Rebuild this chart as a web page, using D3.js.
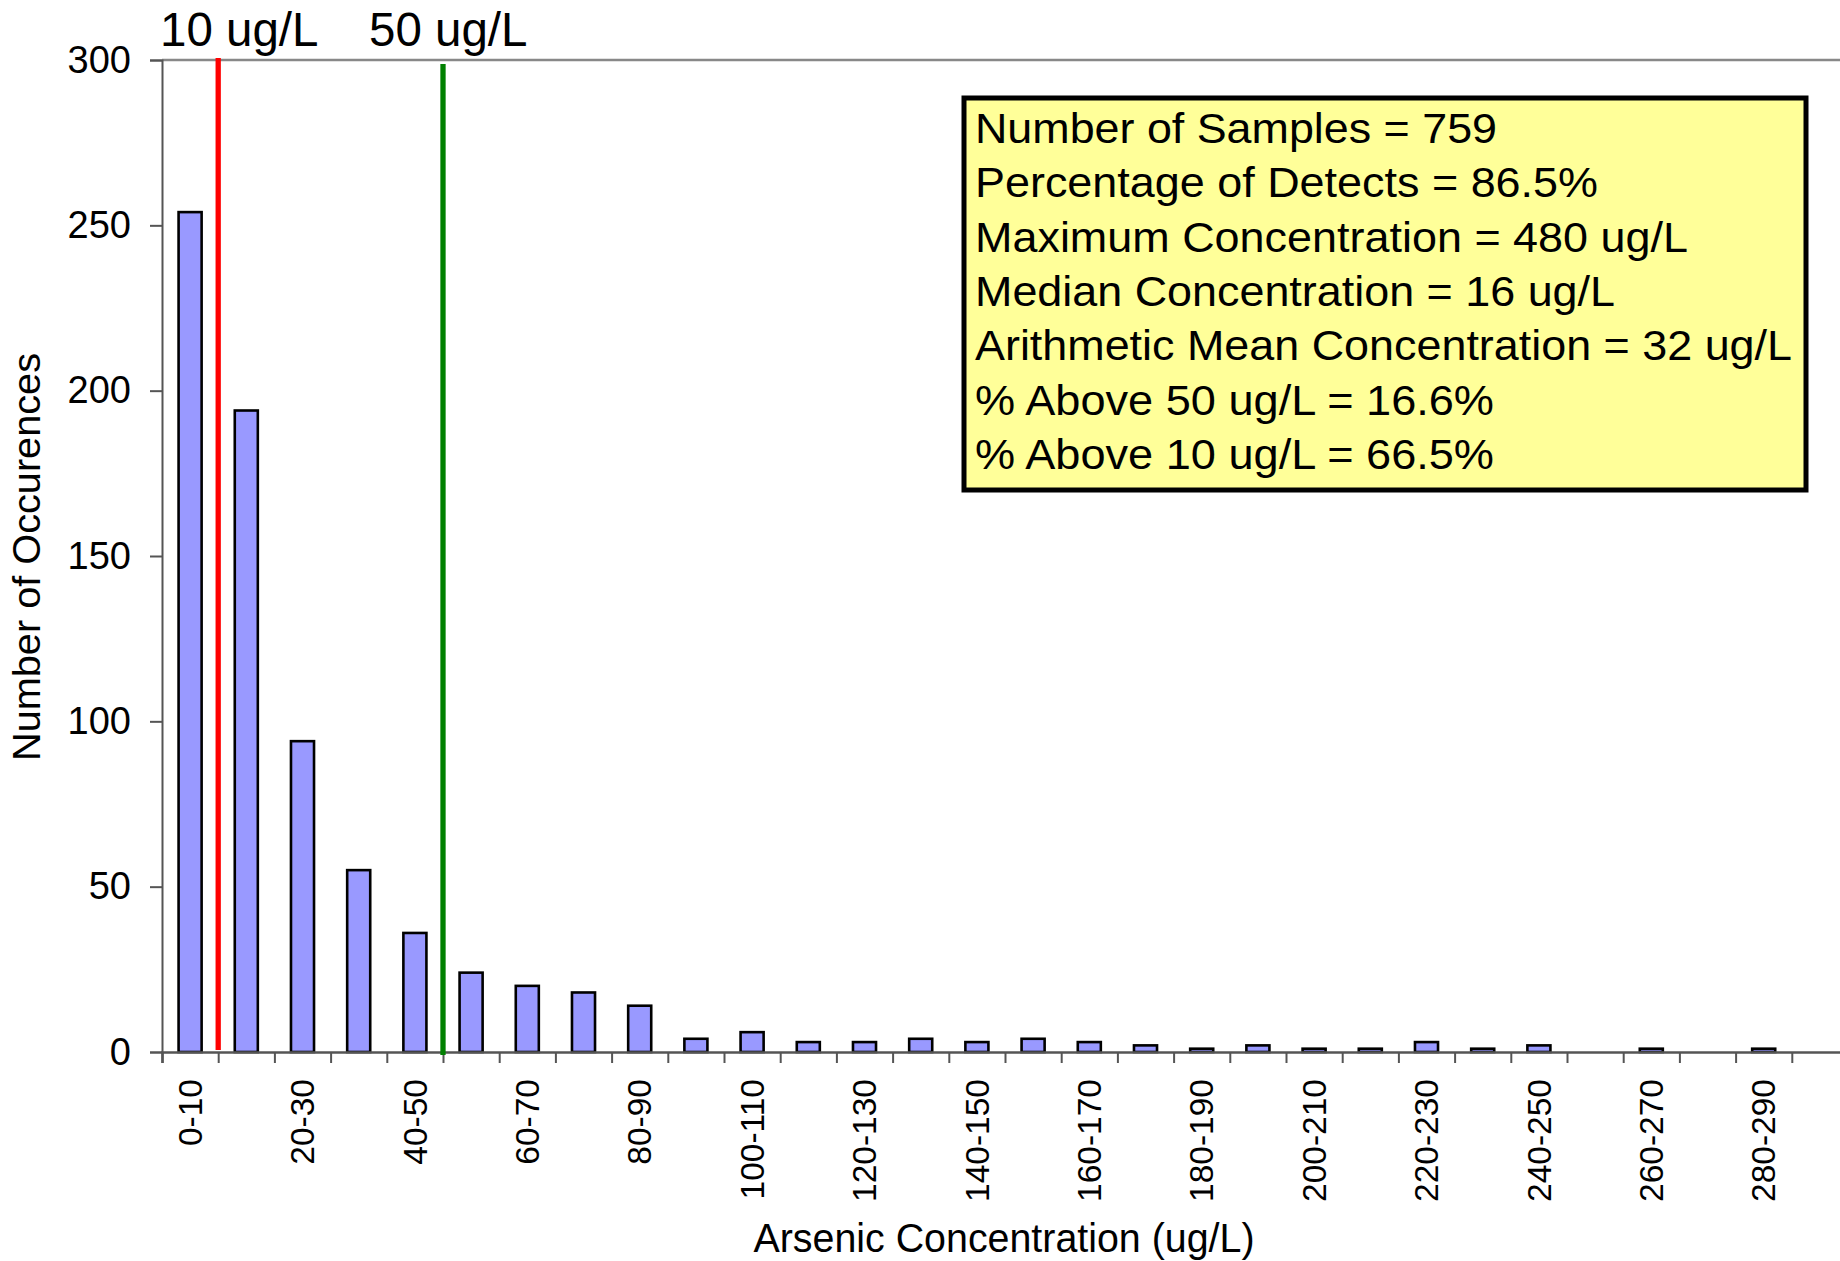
<!DOCTYPE html>
<html><head><meta charset="utf-8">
<script src="https://cdn.jsdelivr.net/npm/d3@7"></script>
<style>
html,body{margin:0;padding:0;background:#fff;}
svg text{font-family:"Liberation Sans",Arial,sans-serif;fill:#000;}
</style></head>
<body><svg id="c" width="1840" height="1261"></svg>
<script>
const categories = ["0-10","10-20","20-30","30-40","40-50","50-60","60-70","70-80","80-90","90-100",
 "100-110","110-120","120-130","130-140","140-150","150-160","160-170","170-180","180-190","190-200",
 "200-210","210-220","220-230","230-240","240-250","250-260","260-270","270-280","280-290","290-300"];
const counts = [254,194,94,55,36,24,20,18,14,4,6,3,3,4,3,4,3,2,1,2,1,1,3,1,2,0,1,0,1,0];
const yTicks = [0,50,100,150,200,250,300];
const xLabelEvery = 2;
const thresholdValues = [10,50];
const thresholdLabels = ["10 ug/L","50 ug/L"];
const thresholdColors = ["#ff0000","#008000"];
const statLines = ["Number of Samples = 759","Percentage of Detects = 86.5%","Maximum Concentration = 480 ug/L",
 "Median Concentration = 16 ug/L","Arithmetic Mean Concentration = 32 ug/L","% Above 50 ug/L = 16.6%","% Above 10 ug/L = 66.5%"];

const svg = d3.select("#c");
const L = 162, T = 60, B = 1052, step = 56.2, R = L + step*categories.length;

const x = d3.scaleBand().domain(categories).range([L,R]).paddingInner(0.59).paddingOuter(0.295);
const xc = d3.scaleLinear().domain([0,300]).range([L,R]);
const y = d3.scaleLinear().domain([0,300]).range([B,T]);

// top border
svg.append("line").attr("x1",L).attr("x2",1840).attr("y1",T).attr("y2",T).attr("stroke","#888").attr("stroke-width",2.5);

// bars
svg.append("g").selectAll("rect").data(counts).join("rect")
  .attr("x",(d,i)=>x(categories[i])).attr("width",x.bandwidth())
  .attr("y",d=>y(d)).attr("height",d=>B-y(d))
  .attr("fill","#9999ff").attr("stroke","#000").attr("stroke-width",2.6)
  .attr("display",d=>d>0?null:"none");

// y axis
const ya = svg.append("g").attr("transform",`translate(${L},0)`)
  .call(d3.axisLeft(y).tickValues(yTicks).tickSize(12).tickPadding(19));
ya.select(".domain").attr("stroke","#555").attr("stroke-width",2);
ya.selectAll(".tick line").attr("stroke","#555").attr("stroke-width",2);
ya.selectAll(".tick text").attr("font-size",38).attr("font-family","Liberation Sans, Arial, sans-serif").attr("fill","#000");

// x axis ticks at boundaries
const xa = svg.append("g").attr("transform",`translate(0,${B})`)
  .call(d3.axisBottom(xc).tickValues(d3.range(0,301,10)).tickSize(11).tickFormat(""));
xa.select(".domain").attr("stroke","#555").attr("stroke-width",2.5);
xa.selectAll(".tick line").attr("stroke","#555").attr("stroke-width",2);

// x labels
const xl = svg.append("g").attr("transform",`translate(0,${B})`)
  .call(d3.axisBottom(x).tickValues(categories.filter((c,i)=>i%xLabelEvery===0)).tickSize(0).tickPadding(0));
xl.select(".domain").remove();
xl.selectAll(".tick text").attr("font-size",33.5).attr("font-family","Liberation Sans, Arial, sans-serif")
  .attr("text-anchor","end").attr("dy","0.35em").attr("y",0)
  .attr("transform","translate(0,27) rotate(-90)");

// threshold lines
thresholdValues.forEach((v,i)=>{
  svg.append("line").attr("x1",xc(v)).attr("x2",xc(v))
    .attr("y1",i===0?T-2:T+4).attr("y2",i===0?B-2:B+3)
    .attr("stroke",thresholdColors[i]).attr("stroke-width",5.3);
});
svg.append("text").attr("x",160).attr("y",46).attr("font-size",47.5).text(thresholdLabels[0]);
svg.append("text").attr("x",369).attr("y",46).attr("font-size",47.5).text(thresholdLabels[1]);

// axis titles
svg.append("text").attr("transform","translate(40,557) rotate(-90)").attr("text-anchor","middle")
  .attr("font-size",38).attr("textLength",408).attr("lengthAdjust","spacingAndGlyphs").text("Number of Occurences");
svg.append("text").attr("x",1004).attr("y",1252).attr("text-anchor","middle")
  .attr("font-size",40).attr("textLength",501).attr("lengthAdjust","spacingAndGlyphs").text("Arsenic Concentration (ug/L)");

// stats box
svg.append("rect").attr("x",964).attr("y",98).attr("width",842).attr("height",392)
  .attr("fill","#ffff99").attr("stroke","#000").attr("stroke-width",5);
const lineLens = [522,623,713,640,817,519,519];
svg.append("g").selectAll("text").data(statLines).join("text")
  .attr("x",975).attr("y",(d,i)=>143+i*54.3).attr("font-size",42)
  .attr("textLength",(d,i)=>lineLens[i]).attr("lengthAdjust","spacingAndGlyphs")
  .text(d=>d);
</script></body></html>
